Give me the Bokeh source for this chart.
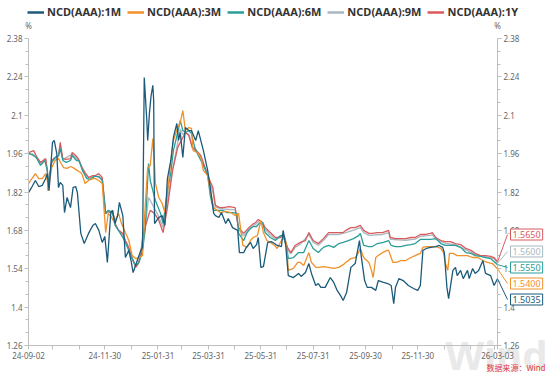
import pandas as pd
from bokeh.plotting import figure
from bokeh.models import (Range1d, LinearAxis, DatetimeAxis, FixedTicker, DatetimeTickFormatter,
                          NumeralTickFormatter, Legend, LegendItem, Label, Arrow,
                          ColumnDataSource)
from bokeh.embed import file_html
from bokeh.resources import INLINE

START = pd.Timestamp("2024-09-02")
END = pd.Timestamp("2026-03-03")

# days since START, and yields (%)
d_1m = [0,3,8,12,16,20,22,24,28,30, 33,35,37,40,42,45,49,52,55,57, 61,65,70,75,78,82,86,89,92,96,
        98,101,104,106,110,113,117,120,122,126, 131,133,135,138,139,141,143,145,146,147,
        152,156,159,162,166,169,173,175,177,180, 183,187,190,195,198,204,209,212,216,218,
        222,225,230,233,238,244,246,251,254,259, 262,266,268,271,274,279,283,287,290,295,
        297,300,303,309,315,318,323,327,330,335, 338,341,346,352,356,360,364,367,371,376,
        381,386,388,392,395,400,405,408,414,419, 423,426,428,432,437,443,449,454,457,460,
        464,469,475,479,483,485,488,490,495,498, 500,504,507,512,514,518,521,525,530,533,
        539,543,547]
v_1m = [1.818,1.833,1.862,1.840,1.844,1.869,1.887,1.825,2.001,2.008,
        1.960,1.836,1.855,1.844,1.745,1.800,1.763,1.836,1.840,1.818,
        1.669,1.632,1.669,1.698,1.705,1.680,1.636,1.658,1.563,1.745,
        1.753,1.705,1.734,1.782,1.734,1.581,1.607,1.563,1.526,1.563,
        1.607,1.618,2.238,2.081,2.008,2.106,2.172,2.209,2.154,1.705,
        1.727,1.734,1.698,1.869,1.935,2.019,2.070,2.008,2.037,1.946,
        2.055,2.044,2.044,2.008,2.044,1.971,1.898,1.836,1.742,1.734,
        1.727,1.745,1.705,1.723,1.690,1.680,1.599,1.599,1.618,1.636,
        1.614,1.628,1.654,1.545,1.548,1.636,1.639,1.632,1.625,1.621,
        1.680,1.625,1.515,1.508,1.523,1.512,1.526,1.559,1.523,1.479,
        1.486,1.472,1.472,1.508,1.490,1.461,1.442,1.424,1.453,1.545,
        1.559,1.643,1.588,1.497,1.472,1.472,1.461,1.497,1.490,1.486,
        1.479,1.413,1.472,1.504,1.497,1.479,1.468,1.461,1.479,1.607,
        1.614,1.618,1.621,1.625,1.618,1.599,1.472,1.431,1.534,1.545,
        1.515,1.534,1.504,1.534,1.504,1.541,1.523,1.534,1.570,1.523,
        1.515,1.479,1.5035]

d_3m = [0,5,8,12,16,20,22,23,27,31, 35,38,41,45,49,52,57,61,63,66,
        70,75,78,82,86,90,93,97,100,105, 108,113,117,121,125,129,133,136,139,142,
        145,147,148,152,156,159,162,166,169,174, 177,180,183,187,190,192,197,201,204,209,
        212,216,220,224,230,236,241,245,250,255, 259,262,267,271,274,278,282,287,290,295,
        299,301,303,309,314,317,321,327,330,335, 338,344,350,356,362,367,370,376,381,385,
        387,390,392,397,400,402,405,408,413,418, 420,425,429,434,440,446,451,457,460,464,
        469,475,481,484,486,489,491,495,500,506, 512,518,524,530,535,541,547]
v_3m = [1.851,1.873,1.887,1.869,1.869,1.887,1.862,1.825,1.909,1.935,
        1.942,1.924,1.909,1.906,1.913,1.909,1.898,1.891,1.880,1.851,
        1.862,1.869,1.869,1.862,1.851,1.672,1.742,1.727,1.709,1.742,
        1.709,1.672,1.643,1.588,1.577,1.581,1.588,1.763,1.909,1.917,
        2.015,1.917,1.851,1.800,1.778,1.745,1.815,1.935,2.008,2.055,
        2.074,2.117,2.044,2.055,2.052,1.971,1.964,1.946,1.898,1.880,
        1.825,1.763,1.753,1.745,1.749,1.745,1.734,1.742,1.625,1.618,
        1.643,1.654,1.661,1.716,1.672,1.643,1.636,1.625,1.614,1.643,
        1.654,1.625,1.534,1.541,1.563,1.563,1.552,1.599,1.563,1.545,
        1.545,1.548,1.545,1.541,1.545,1.555,1.563,1.577,1.581,1.599,
        1.614,1.588,1.577,1.563,1.534,1.508,1.581,1.588,1.599,1.607,
        1.607,1.563,1.563,1.570,1.570,1.581,1.588,1.596,1.618,1.621,
        1.621,1.621,1.614,1.599,1.563,1.534,1.596,1.596,1.588,1.588,
        1.588,1.581,1.581,1.570,1.563,1.559,1.540]

d_6m = [0,5,9,14,19,22,23,27,31,35, 37,40,44,49,51,56,59,63,68,72,
        77,82,86,90,93,98,101,105,110,113, 117,121,125,129,133,136,140,142,145,148,
        154,157,162,166,169,174,177,180,183,187, 190,194,198,204,209,212,216,220,226,232,
        239,243,245,251,255,259,262,266,269,273, 276,282,288,294,297,301,303,309,315,321,
        327,332,338,344,350,356,362,367,373,379, 385,387,391,397,401,407,414,420,423,428,
        434,440,446,451,457,463,469,475,481,486, 492,498,504,510,516,521,527,533,539,547]
v_6m = [1.960,1.957,1.946,1.917,1.935,1.898,1.844,1.928,1.946,1.953,
        1.979,1.935,1.928,1.935,1.953,1.935,1.935,1.898,1.869,1.866,
        1.877,1.877,1.862,1.742,1.753,1.745,1.698,1.680,1.654,1.636,
        1.607,1.577,1.552,1.563,1.607,1.680,1.924,1.862,1.825,1.789,
        1.742,1.705,1.825,1.891,1.971,2.037,2.081,2.044,2.037,2.044,
        2.033,1.982,1.953,1.917,1.880,1.807,1.753,1.753,1.753,1.745,
        1.745,1.742,1.669,1.643,1.672,1.687,1.694,1.694,1.705,1.709,
        1.672,1.654,1.643,1.661,1.661,1.625,1.577,1.581,1.599,1.599,
        1.643,1.614,1.599,1.618,1.625,1.618,1.632,1.636,1.643,1.650,
        1.661,1.669,1.625,1.621,1.621,1.632,1.636,1.643,1.625,1.621,
        1.621,1.625,1.628,1.632,1.647,1.647,1.647,1.650,1.632,1.625,
        1.625,1.625,1.618,1.599,1.596,1.588,1.585,1.581,1.577,1.555]

d_9m = [0,10,14,20,22,23,27,35,37,40, 51,58,63,70,78,86,90,98,101,105,
        110,117,121,125,128,133,136,140,142,147, 152,157,162,168,174,177,180,183,187,191,
        196,201,206,210,215,218,227,241,245,251, 257,265,268,273,276,282,288,297,302,306,
        311,317,327,332,338,344,350,362,370,381, 387,391,397,413,420,422,440,451,457,469,
        471,475,486,498,510,521,533,543,547]
v_9m = [1.962,1.944,1.922,1.938,1.896,1.830,1.930,1.950,1.990,1.938,
        1.958,1.938,1.902,1.870,1.878,1.868,1.742,1.750,1.702,1.680,
        1.662,1.612,1.577,1.548,1.560,1.640,1.685,1.800,1.790,1.760,
        1.730,1.690,1.790,1.900,2.000,2.050,2.030,2.037,2.030,1.985,
        1.965,1.945,1.905,1.870,1.820,1.765,1.758,1.755,1.685,1.660,
        1.685,1.702,1.712,1.702,1.684,1.664,1.648,1.662,1.610,1.594,
        1.618,1.630,1.664,1.637,1.626,1.643,1.665,1.665,1.672,1.683,
        1.690,1.672,1.662,1.665,1.672,1.647,1.644,1.648,1.658,1.662,
        1.664,1.648,1.633,1.627,1.609,1.592,1.584,1.577,1.560]

d_1y = [0,6,10,14,20,22,23,27,31,35, 37,40,44,49,51,55,58,63,66,70,
        75,78,82,86,90,93,96,98,101,105, 110,113,117,121,125,128,131,133,136,140,
        142,147,152,157,162,168,174,180,183,187, 191,196,201,206,210,215,218,223,227,234,
        241,245,251,257,261,265,268,273,276,282, 288,294,297,302,306,311,317,323,327,332,
        338,344,350,356,362,367,370,376,381,387, 391,397,401,407,413,420,422,428,434,440,
        446,451,457,463,469,471,475,481,486,492, 498,504,510,516,521,527,533,539,543,547]
v_1y = [1.964,1.971,1.946,1.928,1.942,1.898,1.825,1.935,1.946,1.953,
        2.001,1.942,1.939,1.942,1.964,1.953,1.942,1.906,1.891,1.873,
        1.880,1.880,1.887,1.873,1.742,1.753,1.742,1.753,1.705,1.680,
        1.669,1.643,1.618,1.577,1.545,1.559,1.588,1.654,1.690,1.734,
        1.753,1.742,1.716,1.672,1.763,1.898,1.982,2.019,2.037,2.026,
        1.982,1.971,1.953,1.909,1.873,1.836,1.771,1.763,1.763,1.767,
        1.763,1.690,1.669,1.690,1.701,1.709,1.720,1.709,1.690,1.672,
        1.654,1.654,1.669,1.618,1.599,1.625,1.636,1.643,1.672,1.643,
        1.632,1.650,1.672,1.672,1.672,1.672,1.680,1.690,1.690,1.698,
        1.680,1.669,1.669,1.672,1.672,1.680,1.654,1.650,1.650,1.650,
        1.654,1.654,1.665,1.665,1.669,1.672,1.654,1.643,1.639,1.639,
        1.632,1.628,1.614,1.607,1.596,1.588,1.588,1.585,1.581,1.565]

names = ["NCD(AAA):1M", "NCD(AAA):3M", "NCD(AAA):6M", "NCD(AAA):9M", "NCD(AAA):1Y"]
colors = ["#1b5a7a", "#f0912a", "#2a9d98", "#a9b8c0", "#d95b5e"]
days = [d_1m, d_3m, d_6m, d_9m, d_1y]
vals = [v_1m, v_3m, v_6m, v_9m, v_1y]
last_values = [1.5035, 1.5400, 1.5550, 1.5600, 1.5650]

y_ticks = [1.26, 1.40, 1.54, 1.68, 1.82, 1.96, 2.10, 2.24, 2.38]
x_label_dates = ["2024-09-02", "2024-11-30", "2025-01-31", "2025-03-31", "2025-05-31",
                 "2025-07-31", "2025-09-30", "2025-11-30", "2026-03-03"]
x_minor_dates = ["2024-09-30", "2024-10-31", "2024-12-31", "2025-02-28", "2025-04-30",
                 "2025-06-30", "2025-08-31", "2025-10-31", "2025-12-31", "2026-01-31",
                 "2026-02-28"]

# ---- layout constants (pixels of the 554x375 canvas) ----
W, H = 554, 375
PX_L, PX_R, PX_T, PX_B = 28, 497, 38, 345          # where the axes sit
DAY_PX = (END - START).days / (PX_R - PX_L)         # days per pixel
Y_PX = (y_ticks[-1] - y_ticks[0]) / (PX_B - PX_T)   # % per pixel


def ms(ts):
    return pd.Timestamp(ts).value / 1e6


def xd(px):   # canvas x pixel -> data (ms)
    return ms(START + pd.Timedelta(days=(px - PX_L) * DAY_PX))


def yd(px):   # canvas y pixel (top-down) -> data
    return y_ticks[0] + (PX_B - px) * Y_PX


p = figure(width=W, height=H, x_axis_type="datetime", output_backend="svg",
           toolbar_location=None, x_range=Range1d(xd(0), xd(W)),
           y_range=Range1d(yd(H), yd(0)), min_border=0,
           min_border_left=0, min_border_right=0, min_border_top=0, min_border_bottom=0,
           x_axis_location=None, y_axis_location=None)
p.outline_line_color = None
p.xgrid.visible = False
p.ygrid.visible = False
p.background_fill_color = "white"
p.border_fill_color = "white"

# watermark, drawn underneath everything else
p.add_layout(Label(x=xd(496), y=yd(354), text="Wind", text_align="center",
                   text_baseline="alphabetic", text_font="Noto Sans",
                   text_font_size="40px", text_font_style="bold",
                   text_color="#e9e9e9", level="underlay"))

renderers = {}
draw_order = [3, 4, 2, 1, 0]
for i in draw_order:
    src = ColumnDataSource(dict(x=START + pd.to_timedelta(days[i], unit="D"), y=vals[i]))
    renderers[i] = p.line("x", "y", source=src, line_color=colors[i], line_width=1.3)

# thicker stand-ins for the legend swatches (a single point of each series: draws nothing)
legend_r = []
for i in range(5):
    src = ColumnDataSource(dict(x=START + pd.to_timedelta(days[i][:1], unit="D"),
                                y=vals[i][:1]))
    legend_r.append(p.line("x", "y", source=src, line_color=colors[i], line_width=2.5))


def style_axis(ax, minor_out=3):
    ax.axis_line_color = "#bfbfbf"
    ax.major_tick_line_color = "#bfbfbf"
    ax.minor_tick_line_color = "#bfbfbf"
    ax.major_tick_out = 4
    ax.major_tick_in = 0
    ax.minor_tick_out = minor_out
    ax.minor_tick_in = 0
    ax.major_label_text_font = "Noto Sans"
    ax.major_label_text_font_size = "8px"
    ax.major_label_text_color = "#666666"
    ax.major_label_standoff = 2


y_minor = [a + k * (b - a) / 3 for a, b in zip(y_ticks[:-1], y_ticks[1:]) for k in (1, 2)]
yticker = FixedTicker(ticks=y_ticks, minor_ticks=y_minor)
laxis = LinearAxis(ticker=yticker, formatter=NumeralTickFormatter(format="0.[00]"),
                   fixed_location=ms(START), bounds=(y_ticks[0], y_ticks[-1]))
style_axis(laxis)
p.add_layout(laxis, "left")
raxis = LinearAxis(ticker=yticker, formatter=NumeralTickFormatter(format="0.[00]"),
                   fixed_location=ms(END), bounds=(y_ticks[0], y_ticks[-1]))
style_axis(raxis)
p.add_layout(raxis, "right")

fmt = "%y-%m-%d"
xaxis = DatetimeAxis(
    ticker=FixedTicker(ticks=[ms(d) for d in x_label_dates],
                       minor_ticks=[ms(d) for d in x_minor_dates]),
    formatter=DatetimeTickFormatter(
        microseconds=fmt, milliseconds=fmt, seconds=fmt, minsec=fmt, minutes=fmt,
        hourmin=fmt, hours=fmt, days=fmt, months=fmt, years=fmt),
    fixed_location=y_ticks[0], bounds=(ms(START), ms(END)))
style_axis(xaxis, minor_out=4)
p.add_layout(xaxis, "below")

# % unit labels above both value axes
for xpos in [ms(START), ms(END)]:
    p.add_layout(Label(x=xpos, y=yd(25), text="%", text_align="center",
                       text_baseline="middle", text_font="Noto Sans",
                       text_font_size="8px", text_color="#666666"))

# end-value tags, stacked to the right of the right axis
tag_order = [4, 3, 2, 1, 0]
tag_px = [234, 251, 267, 283, 299]
for k, i in enumerate(tag_order):
    p.add_layout(Arrow(end=None, x_start=ms(END), y_start=last_values[i], x_end=xd(507),
                       y_end=yd(tag_px[k]), line_color=colors[i], line_width=1))
    p.add_layout(Label(x=xd(510), y=yd(tag_px[k]), text="%.4f" % last_values[i],
                       text_align="left", text_baseline="middle", text_font="Noto Sans",
                       text_font_size="9px", text_color=colors[i],
                       background_fill_color="white", border_line_color=colors[i],
                       border_line_width=1, padding=2))

# source note
p.add_layout(Label(x=xd(545), y=yd(367), text="数据来源：Wind",
                   text_align="right", text_baseline="middle",
                   text_font="Noto Sans CJK SC", text_font_size="8px",
                   text_color="#e0393e"))

legend = Legend(items=[LegendItem(label=names[i], renderers=[legend_r[i]]) for i in range(5)],
                orientation="horizontal", location=(27, H - 19), padding=0, margin=0,
                spacing=6, glyph_width=17, glyph_height=12, label_standoff=3,
                label_text_font="Noto Sans", label_text_font_size="11px",
                label_text_font_style="bold", label_text_color="#333333",
                border_line_color=None, background_fill_alpha=0)
p.add_layout(legend)

open("out.html", "w").write(file_html(p, INLINE))
